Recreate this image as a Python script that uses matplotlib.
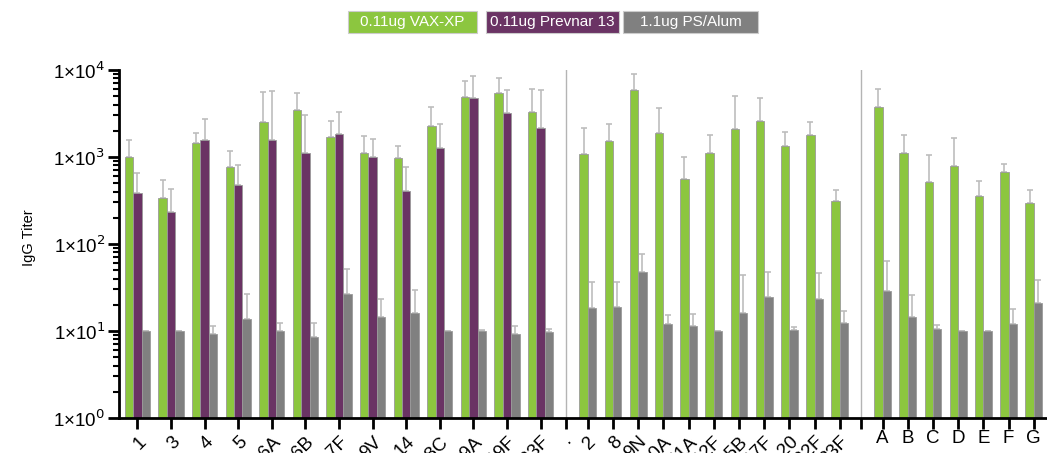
import numpy as np
import matplotlib
matplotlib.use("Agg")
import matplotlib.pyplot as plt
from matplotlib.patches import Rectangle

plt.rcParams['font.family'] = ['Liberation Sans', 'DejaVu Sans']

# serotypes in the 13-valent part (all three groups tested)
sero13 = ['1', '3', '4', '5', '6A', '6B', '7F', '9V', '14', '18C', '19A', '19F', '23F']
vax13 = [1007, 341, 1450, 774, 2525, 3440, 1683, 1103, 966, 2270, 4895, 5400, 3318]
vax13_top = [1560, 540, 1900, 1162, 5540, 5400, 2594, 1730, 1350, 3757, 7415, 8040, 6000]
prev13 = [383, 233, 1585, 481, 1585, 1112, 1837, 1000, 410, 1269, 4725, 3205, 2173]
prev13_top = [650, 425, 2760, 816, 5780, 3040, 3265, 1597, 774, 2376, 8530, 5890, 5840]
ps13 = [9.9, 10.1, 9.2, 13.6, 10.1, 8.6, 26.6, 14.6, 16.2, 10.1, 9.9, 9.2, 9.7]
ps13_top = [10.0, 10.1, 11.5, 26.4, 12.3, 12.3, 51, 23.1, 29.6, 10.1, 10.4, 11.4, 10.6]

# extra serotypes (no Prevnar 13)
sero_ext = ['2', '8', '9N', '10A', '11A', '12F', '15B', '17F', '20', '22F', '33F']
vax_ext = [1073, 1541, 5890, 1888, 558, 1122, 2100, 2615, 1327, 1775, 315]
vax_ext_top = [2154, 2376, 8920, 3630, 1007, 1775, 5025, 4725, 1955, 2525, 414]
ps_ext = [18.2, 18.9, 47.7, 11.9, 11.5, 10.1, 16.0, 24.8, 10.3, 23.1, 12.4]
ps_ext_top = [36.6, 36.3, 76, 15.3, 15.7, 10.1, 43.7, 47.3, 11.2, 46.8, 16.8]

# novel antigens A-G
sero_new = ['A', 'B', 'C', 'D', 'E', 'F', 'G']
vax_new = [3726, 1103, 516, 782, 356, 667, 294]
vax_new_top = [6000, 1775, 1046, 1640, 534, 832, 421]
ps_new = [28.8, 14.4, 10.5, 10.1, 10.1, 11.9, 21.1]
ps_new_top = [63.3, 25.7, 11.6, 10.1, 10.1, 17.9, 38.6]

green = '#8CC63F'
purple = '#6A3364'
grey = '#808080'
edge = '#9a9a9a'
ecol = '#bdbdbd'

fig = plt.figure(figsize=(10.47, 4.53), dpi=100)
ax = fig.add_axes([119 / 1047, 35 / 453, 928 / 1047, 348 / 453])

# x layout in units of one bar width
x1 = 2.2 + 4 * np.arange(len(sero13))
div1 = x1[-1] + 3.0
x2 = div1 + 2.6 + 3 * np.arange(len(sero_ext))
div2 = x2[-1] + 2.5
x3 = div2 + 2.6 + 3 * np.arange(len(sero_new))


def bars(x, vals, tops, color):
    vals = np.array(vals, dtype=float)
    tops = np.array(tops, dtype=float)
    err = [np.zeros_like(vals), np.maximum(tops - vals, 0)]
    ax.bar(x, vals, width=1.0, color=color, edgecolor=edge, linewidth=0.6, zorder=2)
    ax.errorbar(x, vals, yerr=err, fmt='none', ecolor=ecol, elinewidth=1.2,
                capsize=2.2, capthick=1.2, zorder=1)


bars(x1 - 1, vax13, vax13_top, green)
bars(x1, prev13, prev13_top, purple)
bars(x1 + 1, ps13, ps13_top, grey)
bars(x2 - 0.5, vax_ext, vax_ext_top, green)
bars(x2 + 0.5, ps_ext, ps_ext_top, grey)
bars(x3 - 0.5, vax_new, vax_new_top, green)
bars(x3 + 0.5, ps_new, ps_new_top, grey)

for d in (div1, div2):
    ax.axvline(d, color='#b4b4b4', lw=1.0, zorder=0)

ax.set_yscale('log')
ax.set_ylim(1, 1e4)
ax.set_xlim(0, 928 / 8.4)
ax.set_yticks([1, 10, 100, 1000, 10000])
ax.set_yticklabels(['1×10$^{%d}$' % i for i in range(5)], fontsize=13.5)
ax.yaxis.set_minor_locator(matplotlib.ticker.LogLocator(base=10, subs=np.arange(2, 10)))
ax.yaxis.set_minor_formatter(matplotlib.ticker.NullFormatter())
ax.tick_params(axis='y', which='major', length=8, width=2, pad=2)
ax.tick_params(axis='y', which='minor', length=4.5, width=1.5)

# x ticks: rotated serotype labels, plain letters for A-G
ax.set_xticks(list(x1) + [div1] + list(x2) + [div2] + list(x3))
labs = sero13 + ['·'] + sero_ext + [''] + [''] * len(x3)
ax.set_xticklabels(labs, rotation=45, ha='right', va='top',
                   rotation_mode='anchor', fontsize=13.5)
ax.tick_params(axis='x', length=8, width=2, pad=3)
for x, lab in zip(x3, sero_new):
    ax.text(x, -0.035, lab, transform=ax.get_xaxis_transform(), ha='center',
            va='top', fontsize=13.5)

for s in ['top', 'right']:
    ax.spines[s].set_visible(False)
ax.spines['left'].set_linewidth(2)
ax.spines['bottom'].set_linewidth(2)

ax.set_ylabel('IgG Titer', fontsize=10.5)
ax.yaxis.set_label_coords(-0.089, 0.517)

# legend as coloured boxes on top
legend = [('0.11ug VAX-XP', green, 348, 477),
          ('0.11ug Prevnar 13', purple, 486, 619),
          ('1.1ug PS/Alum', grey, 623, 758)]
for txt, col, l, r in legend:
    fig.patches.append(Rectangle((l / 1047, 1 - 33 / 453), (r - l) / 1047, 22 / 453,
                                 transform=fig.transFigure, facecolor=col,
                                 edgecolor='#cccccc', lw=0.8))
    fig.text((l + r) / 2 / 1047, 1 - 22 / 453, txt, color='white', fontsize=11,
             ha='center', va='center')

fig.savefig('out.png', dpi=100)
